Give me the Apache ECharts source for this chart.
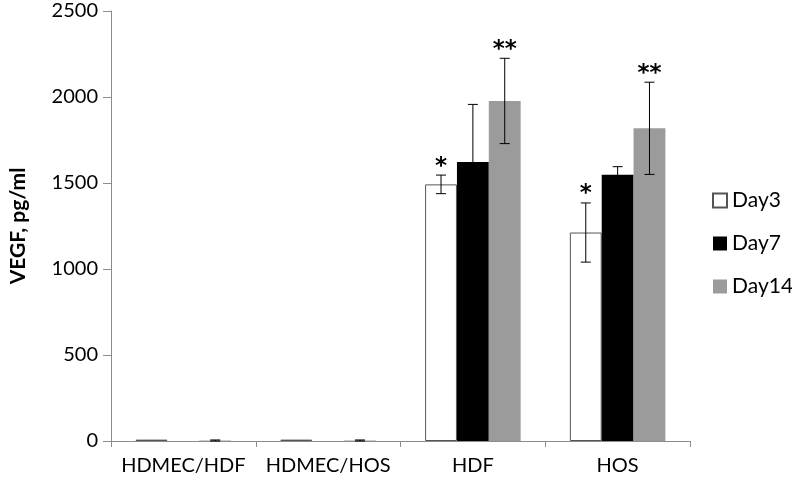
<!DOCTYPE html>
<html><head><meta charset="utf-8">
<script src="https://cdn.jsdelivr.net/npm/echarts@6/dist/echarts.min.js"></script>
<style>html,body{margin:0;padding:0;background:#fff}#c{width:792px;height:481px}</style>
</head><body><div id="c"></div>
<script>
const categories = ['HDMEC/HDF', 'HDMEC/HOS', 'HDF', 'HOS'];
const seriesNames = ['Day3', 'Day7', 'Day14'];
const day3 = [8, 8, 1492, 1212];
const day7 = [0, 0, 1622, 1548];
const day14 = [3, 3, 1977, 1818];
const err3 = [0, 0, 54, 172];
const err7 = [0, 0, 335, 47];
const err14 = [3, 3, 248, 268];
const star3 = ['', '', '*', '*'];
const star7 = ['', '', '', ''];
const star14 = ['', '', '**', '**'];
const yTicks = [0, 500, 1000, 1500, 2000, 2500];

const values = [day3, day7, day14];
const errs = [err3, err7, err14];
const stars = [star3, star7, star14];
const colors = ['#ffffff', '#000000', '#9b9b9b'];
const FONT = 'Lato, "Open Sans", sans-serif';
const GAP = 0.34;

const chart = echarts.init(document.getElementById('c'));
const series = [];
seriesNames.forEach((name, i) => {
  series.push({
    name: name, type: 'bar', data: values[i], barGap: '0%', barCategoryGap: (GAP*100)+'%',
    itemStyle: {color: colors[i], borderColor: i === 0 ? '#555' : (i === 2 ? '#8a8a8a' : '#000'), borderWidth: i === 0 ? 1 : 0},
    emphasis: {disabled: true}
  });
});
seriesNames.forEach((name, i) => {
  series.push({
    type: 'custom', silent: true, z: 10,
    data: categories.map((c, k) => [k, values[i][k], errs[i][k]]),
    renderItem: function (params, api) {
      const k = api.value(0), v = api.value(1), e = api.value(2), s = stars[i][params.dataIndex];
      const band = api.size([1, 0])[0];
      const bw = band * (1 - GAP) / 3;
      const cx = api.coord([k, 0])[0] + (i - 1) * bw;
      const yTop = api.coord([k, v + e])[1];
      const yBot = api.coord([k, v - e])[1];
      const cap = 5;
      const col = '#000';
      const children = [];
      if (e > 0) {
        children.push({type: 'line', shape: {x1: cx, y1: yTop, x2: cx, y2: yBot}, style: {stroke: col, lineWidth: 1}});
        children.push({type: 'line', shape: {x1: cx - cap, y1: yTop, x2: cx + cap, y2: yTop}, style: {stroke: col, lineWidth: 1}});
        children.push({type: 'line', shape: {x1: cx - cap, y1: yBot, x2: cx + cap, y2: yBot}, style: {stroke: col, lineWidth: 1}});
      }
      if (s) {
        children.push({type: 'text', style: {text: s, x: cx, y: yTop + 3, align: 'center', verticalAlign: 'bottom', font: 'bold 23px "DejaVu Sans", sans-serif', fill: '#000'}});
      }
      return {type: 'group', children: children};
    }
  });
});

chart.setOption({
  animation: false,
  backgroundColor: '#fff',
  grid: {left: 106, right: 102, top: 11, bottom: 40},
  legend: {
    data: seriesNames, orient: 'vertical', left: 707, top: 185, itemGap: 22,
    itemWidth: 14, itemHeight: 14, icon: 'rect',
    textStyle: {fontFamily: FONT, fontSize: 21, color: '#000'}
  },
  xAxis: {
    type: 'category', data: categories,
    axisLine: {lineStyle: {color: '#8c8c8c'}},
    axisTick: {show: true, length: 6, lineStyle: {color: '#8c8c8c'}},
    axisLabel: {fontFamily: FONT, fontSize: 20, color: '#000', margin: 15, interval: 0}
  },
  yAxis: {
    type: 'value', min: 0, max: 2500, interval: 500,
    name: 'VEGF, pg/ml', nameLocation: 'middle', nameGap: 82,
    nameTextStyle: {fontFamily: FONT, fontSize: 21, fontWeight: 'bold', color: '#000'},
    axisLine: {show: true, lineStyle: {color: '#8c8c8c'}},
    axisTick: {show: true, length: 8, lineStyle: {color: '#8c8c8c'}},
    splitLine: {show: false},
    axisLabel: {fontFamily: FONT, fontSize: 20, color: '#000', margin: 13,
      formatter: v => yTicks.includes(v) ? String(v) : ''}
  },
  series: series
});
</script></body></html>
